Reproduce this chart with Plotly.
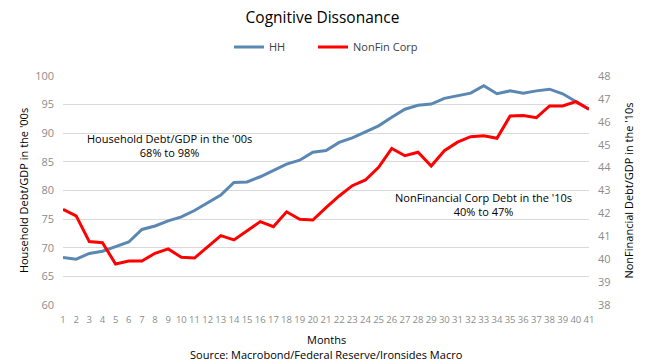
import plotly.graph_objects as go

months = [str(i) for i in range(1, 42)]
hh = [68.3, 68.0, 69.0, 69.4, 70.2, 71.0, 73.2, 73.8, 74.7, 75.4,
      76.5, 77.9, 79.2, 81.4, 81.5, 82.4, 83.5, 84.6, 85.3, 86.7,
      87.0, 88.4, 89.2, 90.2, 91.3, 92.8, 94.2, 94.9, 95.1, 96.1,
      96.6, 97.0, 98.3, 96.9, 97.4, 97.0, 97.4, 97.7, 96.9, 95.6, 94.2]
nonfin = [42.18, 41.89, 40.77, 40.72, 39.79, 39.92, 39.92, 40.26, 40.45, 40.08,
          40.05, 40.52, 41.03, 40.84, 41.25, 41.64, 41.42, 42.07, 41.74, 41.71,
          42.25, 42.76, 43.21, 43.46, 44.01, 44.84, 44.52, 44.67, 44.07, 44.74,
          45.11, 45.35, 45.39, 45.28, 46.25, 46.27, 46.18, 46.69, 46.69, 46.88, 46.55]

left_ticks = [60, 65, 70, 75, 80, 85, 90, 95, 100]
right_ticks = [38, 39, 40, 41, 42, 43, 44, 45, 46, 47, 48]

FONT = "Open Sans"
GRAY = "#8c8c8c"

fig = go.Figure()
fig.add_trace(go.Scatter(x=months, y=hh, name="HH", mode="lines",
                         line=dict(color="#5B87B3", width=3), legend="legend"))
fig.add_trace(go.Scatter(x=months, y=nonfin, name="NonFin Corp", mode="lines",
                         line=dict(color="#FF0000", width=3), yaxis="y2", legend="legend2"))

leg_common = dict(orientation="h", xref="container", xanchor="left",
                  yref="container", y=1 - 47 / 361, yanchor="middle",
                  font=dict(size=11, color="#404040"), bgcolor="rgba(0,0,0,0)")

fig.update_layout(
    width=645, height=361,
    margin=dict(l=63, r=56, t=76, b=56),
    plot_bgcolor="white", paper_bgcolor="white",
    font=dict(family=FONT, color="black"),
    title=dict(text="Cognitive Dissonance", x=0.5, xanchor="center",
               y=1 - 18 / 361, yanchor="middle", yref="container",
               font=dict(size=15.5, color="black", family=FONT)),
    showlegend=True,
    legend=dict(x=229 / 645, **leg_common),
    legend2=dict(x=313 / 645, **leg_common),
    xaxis=dict(type="category", tickvals=months, ticktext=months, tickangle=0,
               showgrid=False, showline=False, zeroline=False, ticks="", automargin=False,
               ticklabelstandoff=7,
               tickfont=dict(size=9.5, color=GRAY, family="Liberation Sans Narrow, Open Sans")),
    yaxis=dict(range=[60, 100], tickvals=left_ticks, showgrid=True, gridcolor="#d9d9d9",
               gridwidth=1, zeroline=False, showline=False, ticks="", automargin=False,
               tickfont=dict(size=11, color=GRAY), ticklabelstandoff=8,
               title=dict(text="Household Debt/GDP in the '00s", font=dict(size=11, color="black"),
                          standoff=4)),
    yaxis2=dict(range=[38, 48], tickvals=right_ticks, overlaying="y", side="right",
                showgrid=False, zeroline=False, showline=False, ticks="", automargin=False,
                tickfont=dict(size=11, color=GRAY), ticklabelstandoff=8,
                title=dict(text="NonFinancial Debt/GDP in the '10s", font=dict(size=11, color="black"),
                           standoff=15)),
)

fig.add_annotation(text="Household Debt/GDP in the '00s<br>68% to 98%",
                   xref="paper", yref="paper", x=(169 - 63) / 526, y=1 - (145 - 76) / 229,
                   showarrow=False, xanchor="center", yanchor="middle", align="center",
                   font=dict(size=11, color="black"))
fig.add_annotation(text="NonFinancial Corp Debt in the '10s<br>40% to 47%",
                   xref="paper", yref="paper", x=(483 - 63) / 526, y=1 - (204 - 76) / 229,
                   showarrow=False, xanchor="center", yanchor="middle", align="center",
                   font=dict(size=11, color="black"))
fig.add_annotation(text="Months", xref="paper", yref="paper", x=0.5, y=1 - (339 - 76) / 229,
                   showarrow=False, xanchor="center", yanchor="middle",
                   font=dict(size=11, color="black"))
fig.add_annotation(text="Source: Macrobond/Federal Reserve/Ironsides Macro",
                   xref="paper", yref="paper", x=0.5, y=1 - (354 - 76) / 229,
                   showarrow=False, xanchor="center", yanchor="middle",
                   font=dict(size=11, color="black"))

fig.write_html("out.html", config={"displayModeBar": False},
               post_script="document.body.style.margin='0';")
